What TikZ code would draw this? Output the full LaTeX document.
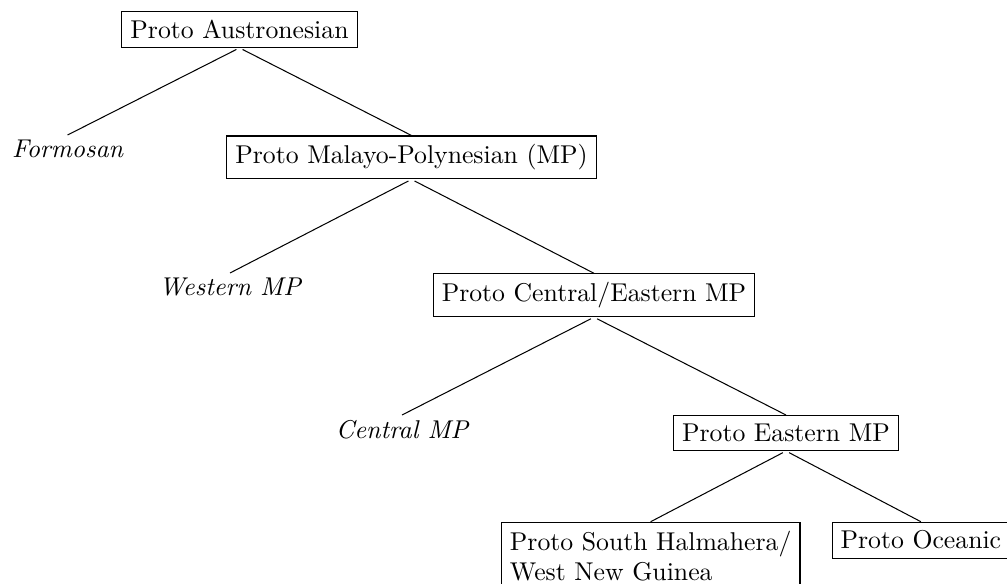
\documentclass[tikz,border=0pt]{standalone}
\usepackage{tikz}

\begin{document}
\begin{tikzpicture}[x=1pt,y=1pt,
  box/.style={draw,anchor=north},
  leaf/.style={font=\itshape,anchor=north,inner ysep=1.8pt},
  branch/.style={shorten <=1.35pt}]
\useasboundingbox (0,0) rectangle (391.37,-226.97);
\node[box] (pa) at (93.08,-4.28) {Proto Austronesian};
\node[leaf] (form) at (26.27,-52.47) {Formosan};
\node[box] (mp) at (159.93,-52.66) {Proto Malayo-Polynesian (MP)};
\node[leaf] (wmp) at (89.39,-106.10) {Western MP};
\node[box] (cemp) at (230.86,-106.22) {Proto Central/Eastern MP};
\node[leaf] (cmp) at (156.24,-161.29) {Central MP};
\node[box] (emp) at (305.48,-161.29) {Proto Eastern MP};
\node[box,align=left] (shwng) at (252.89,-202.76) {Proto South Halmahera/\\West New Guinea};
\node[box] (oc) at (357.90,-202.76) {Proto Oceanic};
\foreach \p/\c in {pa/form,pa/mp,mp/wmp,mp/cemp,cemp/cmp,cemp/emp,emp/shwng,emp/oc}
  \draw[branch] (\p.south) -- (\c.north);
\end{tikzpicture}
\end{document}
